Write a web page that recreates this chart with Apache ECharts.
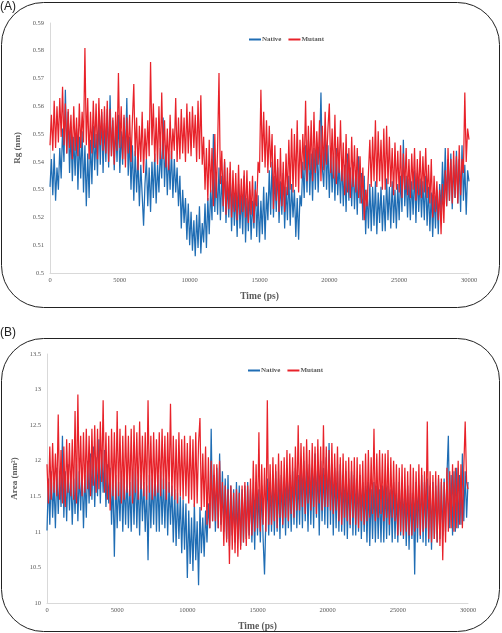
<!DOCTYPE html>
<html>
<head>
<meta charset="utf-8">
<script src="https://cdn.jsdelivr.net/npm/echarts@6/dist/echarts.min.js"></script>
<style>html,body{margin:0;padding:0;background:#fff}#c{width:502px;height:633px}</style>
</head>
<body>
<div id="c"></div>
<script>
// time step 100 ps, 0..30000
const timeStart = 0, timeStep = 100;
const xTicks = [0, 5000, 10000, 15000, 20000, 25000, 30000];
const rgTicks = [0.5, 0.51, 0.52, 0.53, 0.54, 0.55, 0.56, 0.57, 0.58, 0.59];
const areaTicks = [10, 10.5, 11, 11.5, 12, 12.5, 13, 13.5];
const seriesNames = ['Native', 'Mutant'];

const rgNative = [
0.531,0.541,0.528,0.543,0.526,0.538,0.530,0.545,0.534,0.552,0.540,0.566,0.543,0.558,0.536,0.551,0.533,0.549,0.535,0.552,
0.530,0.549,0.534,0.551,0.529,0.546,0.524,0.543,0.527,0.548,0.532,0.553,0.537,0.550,0.535,0.556,0.539,0.558,0.536,0.554,
0.540,0.559,0.538,0.564,0.542,0.555,0.537,0.553,0.540,0.557,0.536,0.551,0.539,0.556,0.541,0.563,0.535,0.549,0.530,0.546,
0.526,0.544,0.529,0.541,0.524,0.539,0.528,0.517,0.532,0.541,0.524,0.538,0.522,0.540,0.527,0.543,0.525,0.539,0.529,0.545,
0.534,0.556,0.531,0.546,0.528,0.543,0.530,0.544,0.527,0.541,0.529,0.538,0.524,0.535,0.516,0.530,0.518,0.527,0.512,0.525,
0.510,0.522,0.508,0.519,0.506,0.521,0.509,0.524,0.507,0.518,0.511,0.525,0.509,0.527,0.514,0.530,0.519,0.550,0.522,0.536,
0.521,0.538,0.519,0.535,0.522,0.540,0.518,0.533,0.520,0.536,0.515,0.531,0.517,0.529,0.513,0.532,0.516,0.528,0.514,0.535,
0.511,0.527,0.515,0.530,0.512,0.526,0.516,0.533,0.513,0.528,0.511,0.526,0.514,0.531,0.512,0.529,0.519,0.537,0.521,0.540,
0.520,0.535,0.522,0.538,0.518,0.533,0.521,0.536,0.516,0.531,0.519,0.535,0.517,0.532,0.520,0.530,0.513,0.527,0.512,0.528,
0.524,0.540,0.527,0.546,0.529,0.548,0.528,0.543,0.526,0.545,0.530,0.547,0.529,0.544,0.565,0.538,0.531,0.549,0.530,0.546,
0.527,0.544,0.529,0.542,0.526,0.545,0.528,0.540,0.525,0.541,0.524,0.539,0.522,0.543,0.526,0.538,0.524,0.540,0.523,0.537,
0.521,0.542,0.525,0.536,0.519,0.535,0.514,0.530,0.516,0.532,0.515,0.531,0.517,0.533,0.514,0.529,0.518,0.531,0.515,0.528,
0.515,0.534,0.519,0.531,0.516,0.533,0.518,0.530,0.516,0.532,0.519,0.535,0.522,0.548,0.524,0.535,0.520,0.534,0.519,0.533,
0.521,0.537,0.518,0.536,0.522,0.534,0.520,0.533,0.519,0.535,0.517,0.531,0.515,0.529,0.513,0.528,0.516,0.530,0.514,0.532,
0.522,0.540,0.525,0.545,0.524,0.541,0.526,0.543,0.523,0.539,0.527,0.544,0.525,0.541,0.522,0.546,0.526,0.539,0.521,0.537,
0.533];
const rgMutant = [
0.546,0.557,0.544,0.562,0.545,0.560,0.547,0.563,0.549,0.567,0.546,0.561,0.543,0.559,0.545,0.557,0.541,0.560,0.544,0.556,
0.542,0.561,0.545,0.558,0.547,0.581,0.546,0.563,0.541,0.558,0.543,0.562,0.545,0.561,0.541,0.563,0.546,0.559,0.544,0.560,
0.543,0.562,0.540,0.559,0.542,0.556,0.539,0.558,0.544,0.572,0.545,0.560,0.541,0.557,0.538,0.556,0.543,0.557,0.540,0.555,
0.568,0.542,0.556,0.537,0.553,0.540,0.558,0.536,0.552,0.541,0.555,0.542,0.576,0.546,0.561,0.540,0.556,0.539,0.560,0.541,
0.565,0.541,0.555,0.538,0.552,0.537,0.557,0.541,0.552,0.544,0.563,0.540,0.556,0.541,0.559,0.543,0.556,0.540,0.561,0.543,
0.558,0.542,0.560,0.545,0.557,0.540,0.562,0.541,0.564,0.539,0.549,0.530,0.545,0.526,0.548,0.529,0.545,0.524,0.550,0.527,
0.545,0.572,0.532,0.544,0.524,0.541,0.521,0.538,0.523,0.540,0.520,0.537,0.522,0.536,0.519,0.539,0.521,0.534,0.522,0.537,
0.520,0.537,0.518,0.533,0.521,0.535,0.518,0.530,0.524,0.540,0.536,0.566,0.540,0.558,0.538,0.555,0.536,0.553,0.538,0.550,
0.523,0.546,0.526,0.541,0.522,0.545,0.524,0.540,0.522,0.543,0.528,0.548,0.530,0.552,0.529,0.550,0.531,0.555,0.529,0.548,
0.534,0.550,0.537,0.562,0.533,0.553,0.537,0.555,0.533,0.558,0.536,0.551,0.539,0.555,0.533,0.553,0.537,0.558,0.539,0.552,
0.561,0.536,0.552,0.534,0.557,0.532,0.549,0.536,0.555,0.533,0.547,0.528,0.550,0.529,0.545,0.527,0.549,0.531,0.546,0.529,
0.545,0.527,0.542,0.525,0.538,0.519,0.530,0.524,0.536,0.548,0.531,0.549,0.533,0.555,0.531,0.551,0.533,0.548,0.530,0.552,
0.530,0.553,0.532,0.549,0.531,0.545,0.528,0.547,0.530,0.544,0.529,0.546,0.527,0.543,0.530,0.545,0.528,0.541,0.527,0.543,
0.530,0.545,0.526,0.541,0.528,0.544,0.527,0.542,0.529,0.545,0.527,0.539,0.525,0.541,0.520,0.535,0.522,0.533,0.519,0.530,
0.514,0.532,0.518,0.537,0.524,0.545,0.526,0.541,0.525,0.544,0.527,0.542,0.525,0.546,0.528,0.541,0.536,0.565,0.540,0.552,
0.548];
const areaNative = [
11.02,11.75,11.10,11.85,11.20,11.70,11.05,11.90,11.25,11.80,11.35,12.35,11.20,11.85,11.15,11.95,11.30,11.80,11.10,11.75,
11.25,11.95,11.15,11.85,11.30,11.90,11.05,11.80,11.20,12.00,11.40,12.10,11.45,12.20,11.35,12.05,11.50,12.30,11.40,12.15,
11.55,12.15,11.35,11.95,11.40,11.90,11.10,11.75,10.65,11.80,11.05,11.70,11.15,11.85,11.00,11.75,11.10,11.80,11.05,11.70,
11.00,11.85,11.10,11.90,11.05,11.75,10.95,11.80,11.15,11.70,11.00,11.65,10.60,11.80,11.05,11.75,11.10,11.90,11.00,11.80,
11.00,11.85,11.10,11.75,11.05,11.80,10.95,11.70,11.10,11.65,10.85,11.60,10.80,11.55,10.90,11.50,10.70,11.45,10.75,11.40,
10.35,11.30,10.55,11.20,10.45,11.40,10.60,11.15,10.25,11.35,10.70,11.20,10.65,11.30,10.85,11.40,11.05,12.45,11.15,11.80,
11.00,11.90,11.05,12.10,11.10,11.85,11.00,11.75,10.90,11.80,10.80,11.65,10.95,11.60,10.85,11.70,10.90,11.65,10.80,11.60,
10.85,11.65,10.90,11.70,10.95,11.60,10.85,11.55,10.75,11.70,10.95,11.60,10.85,11.65,10.90,10.40,11.20,11.75,10.95,11.70,
11.00,11.80,10.95,11.85,11.00,11.75,10.90,11.80,11.05,11.70,10.95,11.90,11.05,11.80,11.00,11.85,11.10,11.90,11.05,11.80,
11.10,11.95,11.05,12.00,11.15,11.90,11.00,11.95,11.10,11.90,11.05,12.10,11.20,11.95,10.95,12.00,11.15,11.90,11.10,12.05,
11.05,12.25,11.10,11.95,10.95,11.90,11.05,11.85,11.00,11.95,11.00,11.80,10.95,11.85,10.90,11.75,11.05,11.85,10.95,11.80,
10.95,11.75,11.00,11.80,10.90,11.70,11.00,11.65,10.85,11.70,10.80,11.60,10.90,11.70,10.85,11.65,10.90,11.60,10.85,11.65,
10.85,11.70,10.90,11.65,10.95,11.60,10.85,11.70,10.90,11.55,10.85,11.70,10.95,11.65,10.90,11.60,10.80,11.65,10.75,11.55,
10.90,11.55,10.40,11.70,10.85,11.65,10.90,11.80,10.85,11.70,10.80,11.75,10.85,11.65,10.75,11.70,10.90,11.65,10.85,11.75,
10.90,11.70,10.95,11.75,11.00,11.80,12.35,11.05,11.80,10.95,11.85,11.00,11.90,11.05,11.80,11.10,12.10,11.15,11.85,11.20,
11.70];
const areaMutant = [
11.95,11.40,12.20,11.45,12.25,11.55,12.10,11.50,12.65,11.45,12.15,11.40,12.20,11.35,12.30,11.55,12.25,11.50,12.30,11.45,
12.70,11.40,12.93,11.60,12.35,11.50,12.40,11.55,12.45,11.60,12.35,11.50,12.45,11.65,12.50,11.55,12.45,11.60,12.55,11.70,
12.85,11.55,12.40,11.45,12.35,11.30,12.45,11.50,12.40,11.45,12.70,11.50,12.45,11.40,12.35,11.45,12.50,11.55,12.35,11.50,
12.45,11.40,12.50,11.55,12.40,11.45,12.55,11.60,12.35,11.50,12.40,11.45,12.85,11.55,12.35,11.45,12.40,11.50,12.30,11.55,
12.40,11.50,12.45,11.60,12.35,11.45,12.40,11.55,12.80,11.50,12.35,11.45,12.30,11.40,12.40,11.50,12.30,11.45,12.35,11.50,
12.25,11.40,12.35,11.45,12.30,11.35,12.40,11.40,12.25,12.60,11.30,12.10,11.35,12.20,11.10,12.05,11.05,12.00,11.15,11.95,
11.15,11.95,11.05,12.00,11.00,11.70,10.80,11.65,10.85,11.60,10.55,11.65,10.75,11.55,10.70,11.60,10.65,11.55,10.75,11.65,
10.85,11.70,10.80,11.65,10.90,11.75,10.95,12.00,11.00,11.95,11.05,12.40,11.00,11.95,11.10,11.90,11.00,12.85,11.10,11.95,
11.10,12.05,11.15,11.95,11.05,12.10,11.20,12.00,11.10,12.05,11.20,12.15,11.15,12.10,11.25,12.05,11.20,12.20,11.30,12.50,
11.30,12.25,11.35,12.20,11.25,12.30,11.40,12.15,11.30,12.25,11.35,12.20,11.25,12.30,11.40,12.20,11.30,12.50,11.35,12.20,
11.35,12.15,11.30,12.25,11.25,12.10,11.30,12.20,11.15,12.05,11.10,12.10,11.20,12.00,11.15,12.05,11.10,12.00,11.20,12.05,
11.10,12.05,11.05,11.95,11.15,12.00,11.10,12.10,11.15,12.15,11.20,12.05,11.25,12.45,11.15,12.10,11.20,12.15,11.25,12.10,
11.15,12.10,11.20,12.15,11.10,12.05,11.20,12.00,11.15,11.95,10.95,11.90,11.00,11.95,10.95,11.90,11.00,11.85,10.95,11.95,
10.95,11.90,11.00,11.85,11.05,11.95,10.95,11.90,11.00,11.85,11.05,12.55,10.90,11.85,10.85,11.80,10.90,11.85,10.85,11.80,
10.80,11.75,10.60,11.70,10.85,11.90,11.00,11.85,11.05,11.95,11.00,11.90,11.05,12.00,11.10,11.95,11.05,11.90,12.55,11.70,
11.60];

const pairs = arr => arr.map((v, i) => [timeStart + i * timeStep, v]);
const BLUE = '#1f6db4', RED = '#e8222a';
const txt = '#595959';
const serif = '"Liberation Serif", "DejaVu Serif", serif';

function xAxis(gi) {
  return {
    type: 'value', gridIndex: gi, min: xTicks[0], max: xTicks[xTicks.length - 1], interval: 5000,
    name: 'Time (ps)', nameLocation: 'middle', nameGap: 19,
    nameTextStyle: { fontFamily: serif, fontWeight: 'bold', fontSize: 9.5, color: txt },
    axisLine: { lineStyle: { color: '#d9d9d9' } }, axisTick: { show: false },
    axisLabel: { fontFamily: serif, fontSize: 6.5, color: txt, margin: 4, formatter: v => String(v) },
    splitLine: { show: false }
  };
}
const ch = echarts.init(document.getElementById('c'), null, { renderer: 'canvas' });
ch.setOption({
  animation: false,
  backgroundColor: '#fff',
  graphic: [
    { type: 'rect', shape: { x: 1.5, y: 2.5, width: 498, height: 305, r: 42 }, style: { fill: 'none', stroke: '#222', lineWidth: 1 } },
    { type: 'rect', shape: { x: 1.5, y: 338.5, width: 498, height: 293, r: 42 }, style: { fill: 'none', stroke: '#222', lineWidth: 1 } },
    { type: 'text', left: 0, top: 1, style: { text: '(A)', font: '12px "Liberation Sans", Arial, sans-serif', fill: '#222' } },
    { type: 'text', left: 0, top: 327, style: { text: '(B)', font: '12px "Liberation Sans", Arial, sans-serif', fill: '#222' } }
  ],
  legend: [
    { data: seriesNames, top: 31, left: 244, itemWidth: 12, itemHeight: 2, itemGap: 7, icon: 'rect',
      textStyle: { fontFamily: serif, fontSize: 7, fontWeight: 'bold', color: txt, padding: [0,0,0,-4] } },
    { data: seriesNames.map(n => n + ' '), top: 362, left: 243, itemWidth: 12, itemHeight: 2, itemGap: 7, icon: 'rect',
      formatter: n => n.trim(),
      textStyle: { fontFamily: serif, fontSize: 7, fontWeight: 'bold', color: txt, padding: [0,0,0,-4] } }
  ],
  grid: [
    { left: 50, right: 33, top: 23, bottom: 360 },
    { left: 47, right: 34, top: 354, bottom: 30 }
  ],
  xAxis: [xAxis(0), xAxis(1)],
  yAxis: [
    { type: 'value', gridIndex: 0, min: rgTicks[0], max: rgTicks[rgTicks.length - 1], interval: 0.01,
      name: 'Rg (nm)', nameLocation: 'middle', nameGap: 22,
      nameTextStyle: { fontFamily: serif, fontWeight: 'bold', fontSize: 9, color: txt },
      axisLine: { show: true, lineStyle: { color: '#d9d9d9' } }, axisTick: { show: false },
      axisLabel: { fontFamily: serif, fontSize: 6.5, color: txt, margin: 6, formatter: v => String(+v.toFixed(2)) },
      splitLine: { show: false } },
    { type: 'value', gridIndex: 1, min: areaTicks[0], max: areaTicks[areaTicks.length - 1], interval: 0.5,
      name: 'Area (nm²)', nameLocation: 'middle', nameGap: 23,
      nameTextStyle: { fontFamily: serif, fontWeight: 'bold', fontSize: 9, color: txt },
      axisLine: { show: true, lineStyle: { color: '#d9d9d9' } }, axisTick: { show: false },
      axisLabel: { fontFamily: serif, fontSize: 6.5, color: txt, margin: 6, formatter: v => String(+v.toFixed(1)) },
      splitLine: { show: false } }
  ],
  series: [
    { name: 'Native', type: 'line', xAxisIndex: 0, yAxisIndex: 0, data: pairs(rgNative), showSymbol: false, color: BLUE, lineStyle: { width: 1.25 } },
    { name: 'Mutant', type: 'line', xAxisIndex: 0, yAxisIndex: 0, data: pairs(rgMutant), showSymbol: false, color: RED, lineStyle: { width: 1.25 } },
    { name: 'Native ', type: 'line', xAxisIndex: 1, yAxisIndex: 1, data: pairs(areaNative), showSymbol: false, color: BLUE, lineStyle: { width: 1.25 } },
    { name: 'Mutant ', type: 'line', xAxisIndex: 1, yAxisIndex: 1, data: pairs(areaMutant), showSymbol: false, color: RED, lineStyle: { width: 1.25 } }
  ]
});
</script>
</body>
</html>
